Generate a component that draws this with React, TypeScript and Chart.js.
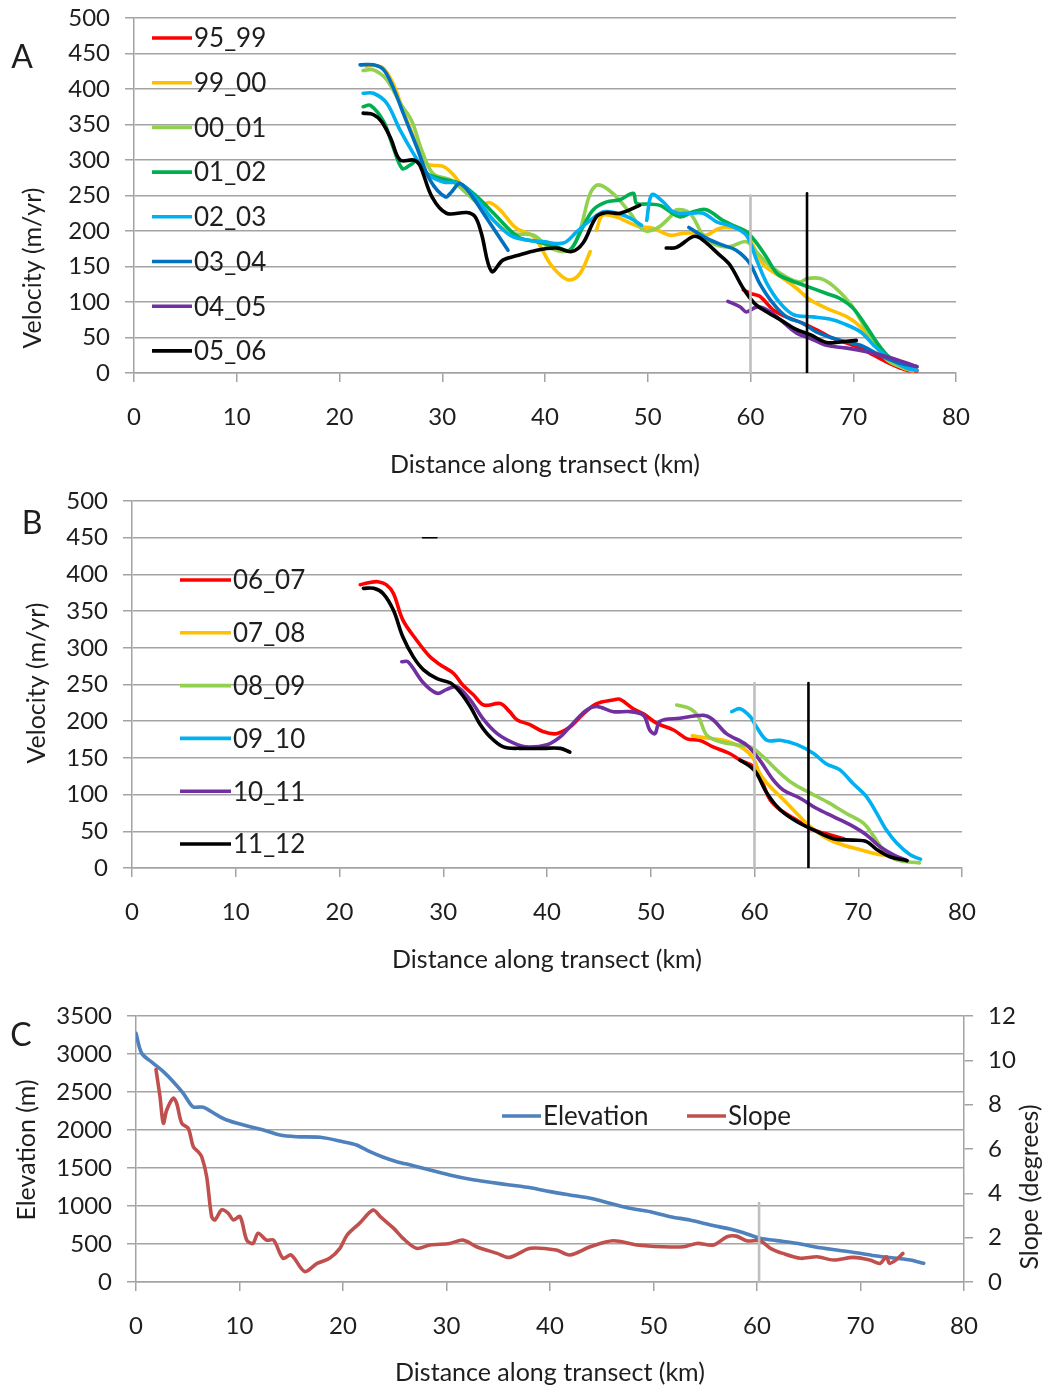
import React, { useEffect, useRef } from "react";
import { Chart, registerables } from "chart.js";
Chart.register(...registerables);

type P = [number, number] | null;

// ---------- axis settings ----------
const DIST_MIN = 0;
const DIST_MAX = 80;
const DIST_STEP = 10;
const VEL_MIN = 0;
const VEL_MAX = 500;
const VEL_STEP = 50;
const ELEV_MAX = 3500;
const ELEV_STEP = 500;
const SLOPE_MAX = 12;
const SLOPE_STEP = 2;

// ---------- Panel A ----------
const A_LABELS = ["95_99", "99_00", "00_01", "01_02", "02_03", "03_04", "04_05", "05_06"];
const A_COLORS = ["#FF0000", "#FFC000", "#92D050", "#00B050", "#00B0F0", "#0070C0", "#7030A0", "#000000"];

const A_95_99: P[] = [[59.3,117],[60.0,112],[60.9,108],[62.2,89],[63.5,79],[65.1,70],[66.4,61],[67.7,51],[69.4,42],[70.7,35],[72.0,25],[73.9,11],[75.2,4],[76.2,3]];
const A_99_00: P[] = [[22.6,432],[23.5,433],[24.3,429],[25.2,408],[26.2,370],[27.2,333],[28.5,295],[30.1,291],[31.1,279],[32.0,262],[33.7,237],[34.6,240],[35.6,230],[37.2,204],[38.9,192],[40.5,154],[41.5,138],[42.4,131],[43.4,140],[44.4,171],
  null,
  [45.0,201],[45.6,222],[46.9,220],[48.3,211],[49.2,206],[50.5,204],[52.2,194],[53.5,197],[54.8,197],[55.7,194],[57.0,204],[58.6,204],[59.6,199],[60.3,178],[61.3,152],[62.9,136],[64.5,119],[65.8,103],[67.4,91],[69.4,79],[70.7,65],[72.0,42],[73.3,21],[74.9,7],[75.8,3]];
const A_00_01: P[] = [[22.3,426],[23.3,427],[24.6,413],[25.9,380],[27.0,356],[28.0,314],[29.1,281],[30.8,272],[32.0,258],[33.4,239],[35.0,215],[36.6,197],[38.9,194],[40.5,176],[42.4,173],[43.4,201],[44.4,253],[45.2,265],[46.6,253],[48.3,225],[49.6,201],[50.9,204],[52.2,220],[52.8,230],[54.1,225],[55.4,194],[56.7,180],[58.0,178],[59.6,185],[60.6,170],[62.0,150],[63.5,135],[64.8,128],[65.5,133],[66.8,133],[68.1,122],[69.7,98],[70.7,75],[72.0,42],[73.3,18],[74.9,7],[76.0,5]];
const A_01_02: P[] = [[22.3,375],[23.0,377],[24.3,354],[25.2,319],[26.1,288],[26.9,293],[27.5,298],[28.5,281],[29.8,274],[31.7,267],[33.4,248],[35.0,225],[36.6,201],[37.6,190],[39.2,185],[41.1,178],[42.4,173],[43.7,206],[44.7,230],[46.0,241],[47.3,244],[48.6,253],[48.9,239],[50.0,238],[51.2,236],[53.1,220],[54.4,227],[55.7,230],[57.3,215],[58.6,206],[59.6,199],[60.6,183],[61.6,162],[62.6,140],[63.8,131],[65.5,122],[67.4,112],[68.7,105],[70.0,91],[71.3,65],[72.6,37],[73.9,18],[75.8,9]];
const A_02_03: P[] = [[22.3,394],[23.3,394],[24.6,380],[25.9,342],[27.2,309],[28.5,281],[30.1,269],[31.7,267],[33.4,244],[35.0,215],[36.6,194],[37.9,188],[39.8,185],[41.8,183],[43.1,199],[44.4,215],[45.7,227],[47.0,225],[48.3,218],[49.4,208],
  null,
  [49.9,215],[50.4,251],[51.5,241],[52.5,227],[54.1,225],[55.4,225],[56.7,213],[58.3,206],[59.6,194],[60.6,159],[61.6,126],[62.9,98],[64.2,82],[66.1,79],[67.7,76],[69.0,70],[70.7,58],[72.0,39],[73.3,23],[75.2,7],[76.2,4]];
const A_03_04: P[] = [[22.0,434],[23.3,434],[24.3,427],[25.2,403],[26.2,366],[27.5,319],[28.8,272],[30.3,248],[30.9,255],[31.7,267],[32.7,253],[34.0,225],[35.3,197],[36.4,173],
  null,
  [54.0,205],[55.7,190],[57.3,180],[58.6,173],[59.9,155],[60.9,126],[62.2,98],[63.5,79],[65.1,70],[66.4,58],[68.7,46],[70.7,39],[72.6,25],[74.5,14],[76.2,9]];
const A_04_05: P[] = [[57.8,101],[59.0,93],[59.6,86],[60.6,93],[61.6,89],[62.9,75],[64.5,56],[65.8,49],[67.4,39],[69.4,35],[71.3,30],[73.3,23],[75.2,14],[76.2,9]];
const A_05_06: P[] = [[22.3,366],[23.3,364],[24.1,354],[25.0,330],[25.9,300],[27.2,300],[27.8,293],[29.0,248],[30.4,225],[32.4,226],[33.2,220],[33.8,197],[34.8,143],[35.9,159],[37.2,165],[39.2,173],[41.1,176],[42.6,171],[43.7,183],[45.0,220],[46.0,226],[47.3,225],[49.2,236],
  null,
  [51.8,176],[52.8,177],[54.4,192],[55.1,190],[57.0,166],[58.0,152],[59.3,119],[60.4,98],[61.6,86],[62.9,75],[64.5,61],[65.8,54],[67.4,43],[69.0,44],[70.3,46]];
const A_SERIES = [A_95_99, A_99_00, A_00_01, A_01_02, A_02_03, A_03_04, A_04_05, A_05_06];
const A_GREY_MARK: P[] = [[60.0,0],[60.0,250]];
const A_BLACK_MARK: P[] = [[65.5,0],[65.5,253]];

// ---------- Panel B ----------
const B_LABELS = ["06_07", "07_08", "08_09", "09_10", "10_11", "11_12"];
const B_COLORS = ["#FF0000", "#FFC000", "#92D050", "#00B0F0", "#7030A0", "#000000"];

const B_06_07: P[] = [[22.0,386],[22.9,389],[23.7,390],[24.5,386],[25.2,374],[26.1,338],[27.4,311],[28.7,288],[29.7,277],[31.0,265],[31.9,249],[32.9,236],[33.9,222],[35.5,224],[36.4,213],[37.1,202],[38.4,195],[39.6,186],[40.9,183],[42.2,192],[43.5,210],[44.8,224],[46.4,229],[47.0,230],[48.3,217],[49.3,210],[50.6,197],[52.2,188],[53.5,176],[54.7,174],[56.0,165],[57.6,156],[58.6,147],[59.9,138],[60.8,115],[61.5,93],[62.5,79],[64.1,65],[65.7,52],[67.3,45],[68.6,40]];
const B_07_08: P[] = [[54.0,180],[55.4,177],[57.0,174],[58.9,163],[59.9,149],[60.5,129],[61.5,111],[62.8,93],[64.1,74],[65.4,56],[67.0,40],[68.6,31],[70.2,25],[72.1,18],[73.4,18]];
const B_08_09: P[] = [[52.5,222],[53.8,217],[54.6,206],[55.4,181],[56.7,172],[58.3,168],[59.6,165],[60.8,152],[62.1,134],[63.7,115],[65.4,102],[67.0,90],[68.9,74],[70.5,61],[71.5,43],[72.4,25],[73.7,11],[75.9,7]];
const B_09_10: P[] = [[57.8,213],[58.6,217],[59.6,206],[60.2,192],[61.2,174],[62.5,174],[64.1,168],[65.7,156],[66.9,142],[68.2,134],[69.5,115],[70.8,97],[71.8,74],[72.7,52],[73.7,34],[75.0,18],[76.0,12]];
const B_10_11: P[] = [[26.0,281],[26.6,281],[28.1,252],[29.4,238],[30.3,243],[31.3,247],[32.6,229],[33.9,202],[35.2,183],[36.8,170],[38.0,165],[40.0,168],[41.3,179],[42.5,197],[43.8,215],[44.8,220],[46.4,213],[48.0,213],[49.3,208],[49.9,188],[50.4,183],[50.9,200],[52.8,204],[55.1,208],[56.0,202],[57.3,183],[59.2,168],[60.5,147],[61.8,120],[62.8,106],[64.4,95],[66.0,81],[67.6,70],[69.2,59],[70.8,45],[72.1,29],[73.4,18],[74.7,10]];
const B_11_12: P[] = [[22.3,381],[23.3,381],[24.2,374],[25.2,351],[26.1,315],[27.1,288],[28.1,270],[29.4,258],[30.7,252],[31.6,240],[32.6,220],[33.5,197],[34.5,179],[35.8,165],[37.4,163],[39.6,163],[41.3,163],[42.2,158],
  null,
  [58.6,147],[59.6,138],[60.2,129],[61.2,102],[62.5,79],[64.1,63],[65.7,52],[67.6,40],[69.5,38],[70.8,36],[71.8,25],[73.1,15],[74.7,10]];
const B_SERIES = [B_06_07, B_07_08, B_08_09, B_09_10, B_10_11, B_11_12];
const B_DASH: P[] = [[28.0,450],[29.4,450]];
const B_GREY_MARK: P[] = [[60.0,0],[60.0,252]];
const B_BLACK_MARK: P[] = [[65.2,0],[65.2,252]];

// ---------- Panel C ----------
const C_LABELS = ["Elevation", "Slope"];
const C_COLORS = ["#4F81BD", "#C0504D"];
const C_ELEVATION: P[] = [[0.0,3273],[0.55,3010],[1.67,2878],[2.64,2768],[3.6,2636],[4.57,2483],[5.5,2307],[6.5,2299],[7.8,2198],[8.76,2132],[10.4,2066],[12.3,2000],[13.9,1934],[15.5,1912],[17.8,1904],[20.0,1846],[21.3,1803],[22.6,1715],[23.9,1641],[25.2,1583],[26.8,1531],[28.4,1474],[30.3,1408],[32.3,1351],[34.2,1312],[36.1,1277],[38.1,1240],[40.0,1189],[41.9,1145],[43.9,1101],[45.8,1036],[47.7,970],[49.7,925],[51.6,859],[53.5,816],[55.5,750],[57.4,697],[58.7,649],[60.3,575],[61.9,544],[63.8,509],[65.8,457],[67.7,421],[69.6,386],[71.6,342],[73.5,312],[74.8,290],[76.1,246]];
const C_SLOPE: P[] = [[1.93,9.59],[2.32,8.36],[2.64,7.16],[2.97,7.76],[3.6,8.29],[3.93,8.06],[4.42,7.16],[5.05,6.93],[5.54,6.1],[6.0,5.88],[6.35,5.65],[6.83,4.75],[7.31,2.95],[7.63,2.8],[8.28,3.25],[8.92,3.1],[9.4,2.8],[10.05,2.95],[10.7,1.89],[11.3,1.74],[11.8,2.2],[12.6,1.89],[13.3,1.89],[14.2,1.07],[15.0,1.22],[16.3,0.47],[17.5,0.84],[18.7,1.07],[19.7,1.52],[20.4,2.12],[21.6,2.65],[22.9,3.25],[23.6,2.95],[24.9,2.42],[25.8,1.97],[27.1,1.52],[28.4,1.67],[30.3,1.74],[31.6,1.89],[32.9,1.59],[34.9,1.29],[36.1,1.11],[38.1,1.52],[40.6,1.44],[41.9,1.22],[43.9,1.59],[46.1,1.86],[48.4,1.67],[50.9,1.59],[52.9,1.59],[54.2,1.74],[55.8,1.67],[57.1,2.04],[58.0,2.07],[59.0,1.86],[60.3,1.86],[61.3,1.52],[62.5,1.29],[64.2,1.07],[65.8,1.14],[67.4,0.99],[69.3,1.11],[70.9,0.99],[71.9,0.84],[72.5,1.14],[72.8,0.84],[73.5,1.02],[74.1,1.29]];
const C_GREY_MARK: P[] = [[60.2,0],[60.2,1040]];

// ---------- styling ----------
const FONT = "Lato, 'Open Sans', sans-serif";
const TEXT = "#1e1e1e";
const GRID = "#a3a3a3";
const TICK_SIZE = 24;
const LEGEND_SIZE = 26;
const TITLE_SIZE = 25;

const toXY = (pts: P[]) =>
  pts.map((p, i) => {
    if (p) return { x: p[0], y: p[1] };
    const prev = pts[i - 1] as [number, number];
    return { x: prev[0], y: null };
  });

const line = (label: string, pts: P[], color: string, order: number, width = 3.6, tension = 0.35, axis = "y") => ({
  label,
  data: toXY(pts),
  borderColor: color,
  backgroundColor: color,
  borderWidth: width,
  pointRadius: 0,
  pointHoverRadius: 0,
  tension,
  fill: false,
  spanGaps: false,
  order,
  yAxisID: axis,
  borderCapStyle: "round",
  borderJoinStyle: "round",
});

const decorPlugin = {
  id: "decor",
  afterDraw(chart: any, _args: any, opts: any) {
    const ctx = chart.ctx as CanvasRenderingContext2D;
    ctx.save();
    (opts.texts || []).forEach((t: any) => {
      ctx.save();
      ctx.translate(t.x, t.y);
      if (t.rot) ctx.rotate(t.rot);
      ctx.font = `${t.size}px ${FONT}`;
      ctx.fillStyle = TEXT;
      ctx.textAlign = "center";
      ctx.textBaseline = "middle";
      ctx.fillText(t.text, 0, 0);
      ctx.restore();
    });
    (opts.legend || []).forEach((l: any) => {
      ctx.strokeStyle = l.color;
      ctx.lineWidth = 3.6;
      ctx.lineCap = "butt";
      ctx.beginPath();
      ctx.moveTo(l.x, l.y);
      ctx.lineTo(l.x + l.len, l.y);
      ctx.stroke();
      ctx.font = `${l.size}px ${FONT}`;
      ctx.fillStyle = TEXT;
      ctx.textAlign = "left";
      ctx.textBaseline = "middle";
      ctx.fillText(l.text, l.x + l.len + 2, l.y + 1);
    });
    ctx.restore();
  },
};

const tickFont = { family: FONT, size: TICK_SIZE };
const titleFont = { family: FONT, size: TITLE_SIZE };
const plain = (v: any) => String(v);

const fitY = (w: number) => (s: any) => {
  s.width = w;
  s.paddingTop = 0;
  s.paddingBottom = 0;
};

function xScale(xHeight: number, tickPad: number, titlePad: number) {
  return {
    type: "linear",
    min: DIST_MIN,
    max: DIST_MAX,
    afterFit: (s: any) => { s.height = xHeight; s.paddingLeft = 0; s.paddingRight = 0; },
    ticks: { stepSize: DIST_STEP, font: tickFont, color: TEXT, padding: tickPad, maxRotation: 0, autoSkip: false, callback: plain },
    grid: { drawOnChartArea: false, drawTicks: true, tickLength: 9, color: GRID, lineWidth: 1.5 },
    border: { display: true, color: GRID, width: 1.5 },
    title: { display: true, text: "Distance along transect (km)", font: titleFont, color: TEXT, padding: { top: 0, bottom: titlePad } },
  };
}

function velocityConfig(p: {
  labels: string[]; colors: string[]; series: P[][]; extras: any[];
  top: number; right: number; leftW: number; xH: number; tickPad: number; titlePad: number;
  texts: any[]; legendX: number; legendY0: number; legendDy: number; legendLen: number;
}) {
  const n = p.series.length;
  const datasets: any[] = p.series.map((s, i) => line(p.labels[i], s, p.colors[i], n - i + 5));
  p.extras.forEach((e) => datasets.push(e));
  const legend = p.labels.map((t, i) => ({
    text: t, color: p.colors[i], x: p.legendX, y: p.legendY0 + i * p.legendDy, len: p.legendLen, size: LEGEND_SIZE,
  }));
  return {
    type: "line",
    data: { datasets },
    plugins: [decorPlugin],
    options: {
      responsive: false,
      animation: false,
      devicePixelRatio: 1,
      events: [],
      layout: { padding: { top: p.top, right: p.right, left: 0, bottom: 0 } },
      plugins: { legend: { display: false }, tooltip: { enabled: false }, decor: { texts: p.texts, legend } },
      scales: {
        x: xScale(p.xH, p.tickPad, p.titlePad),
        y: {
          type: "linear",
          min: VEL_MIN,
          max: VEL_MAX,
          afterFit: fitY(p.leftW),
          ticks: { stepSize: VEL_STEP, font: tickFont, color: TEXT, padding: 15, callback: plain },
          grid: { color: GRID, lineWidth: 1.5, drawTicks: true, tickLength: 9 },
          border: { display: true, color: GRID, width: 1.5 },
        },
      },
    },
  };
}

const configA = () =>
  velocityConfig({
    labels: A_LABELS, colors: A_COLORS, series: A_SERIES,
    extras: [
      line("grey", A_GREY_MARK, "#BFBFBF", 1, 2.6, 0),
      line("black", A_BLACK_MARK, "#000000", 0, 2.6, 0),
    ],
    top: 18, right: 91, leftW: 134, xH: 112, tickPad: 21, titlePad: 5,
    texts: [
      { text: "A", x: 22, y: 58, size: 32 },
      { text: "Velocity (m/yr)", x: 33, y: 268, size: TITLE_SIZE, rot: -Math.PI / 2 },
    ],
    legendX: 152, legendY0: 38, legendDy: 44.7, legendLen: 40,
  });

const configB = () =>
  velocityConfig({
    labels: B_LABELS, colors: B_COLORS, series: B_SERIES,
    extras: [
      line("dash", B_DASH, "#000000", 2, 1.5, 0),
      line("grey", B_GREY_MARK, "#BFBFBF", 1, 2.6, 0),
      line("black", B_BLACK_MARK, "#000000", 0, 2.6, 0),
    ],
    top: 16, right: 85, leftW: 132, xH: 112, tickPad: 21, titlePad: 5,
    texts: [
      { text: "B", x: 32, y: 524 - 485, size: 32 },
      { text: "Velocity (m/yr)", x: 37, y: 683 - 485, size: TITLE_SIZE, rot: -Math.PI / 2 },
    ],
    legendX: 180, legendY0: 580 - 485, legendDy: 52.8, legendLen: 51,
  });

const configC = () => ({
  type: "line",
  data: {
    datasets: [
      line(C_LABELS[0], C_ELEVATION, C_COLORS[0], 3, 3.6, 0.3, "y"),
      line(C_LABELS[1], C_SLOPE, C_COLORS[1], 2, 3.6, 0.3, "y2"),
      line("grey", C_GREY_MARK, "#BFBFBF", 1, 2.6, 0, "y"),
    ],
  },
  plugins: [decorPlugin],
  options: {
    responsive: false,
    animation: false,
    devicePixelRatio: 1,
    events: [],
    layout: { padding: { top: 36, right: 0, left: 0, bottom: 0 } },
    plugins: {
      legend: { display: false },
      tooltip: { enabled: false },
      decor: {
        texts: [
          { text: "C", x: 21, y: 56, size: 32 },
          { text: "Elevation (m)", x: 27, y: 1150 - 980, size: TITLE_SIZE, rot: -Math.PI / 2 },
          { text: "Slope (degrees)", x: 1030, y: 1187 - 980, size: TITLE_SIZE, rot: -Math.PI / 2 },
        ],
        legend: [
          { text: C_LABELS[0], color: C_COLORS[0], x: 502, y: 136, len: 39, size: LEGEND_SIZE },
          { text: C_LABELS[1], color: C_COLORS[1], x: 687, y: 136, len: 39, size: LEGEND_SIZE },
        ],
      },
    },
    scales: {
      x: xScale(108, 21, 2),
      y: {
        type: "linear",
        position: "left",
        min: 0,
        max: ELEV_MAX,
        afterFit: fitY(136),
        ticks: { stepSize: ELEV_STEP, font: tickFont, color: TEXT, padding: 15, callback: plain },
        grid: { color: GRID, lineWidth: 1.5, drawTicks: true, tickLength: 9 },
        border: { display: true, color: GRID, width: 1.5 },
      },
      y2: {
        type: "linear",
        position: "right",
        min: 0,
        max: SLOPE_MAX,
        afterFit: fitY(83),
        ticks: { stepSize: SLOPE_STEP, font: tickFont, color: TEXT, padding: 15, callback: plain },
        grid: { drawOnChartArea: false, color: GRID, lineWidth: 1.5, drawTicks: true, tickLength: 9 },
        border: { display: true, color: GRID, width: 1.5 },
      },
    },
  },
});

function ChartCanvas(props: { make: () => any; top: number; height: number }) {
  const ref = useRef<HTMLCanvasElement>(null);
  useEffect(() => {
    const chart = new Chart(ref.current as HTMLCanvasElement, props.make());
    return () => chart.destroy();
  }, []);
  return (
    <canvas
      ref={ref}
      width={1047}
      height={props.height}
      style={{ position: "absolute", left: 0, top: props.top, width: 1047, height: props.height, display: "block" }}
    />
  );
}

export default function App() {
  return (
    <div style={{ position: "absolute", left: 0, top: 0, width: 1047, height: 1390, background: "#ffffff" }}>
      <ChartCanvas make={configA} top={0} height={485} />
      <ChartCanvas make={configB} top={485} height={495} />
      <ChartCanvas make={configC} top={980} height={410} />
    </div>
  );
}
